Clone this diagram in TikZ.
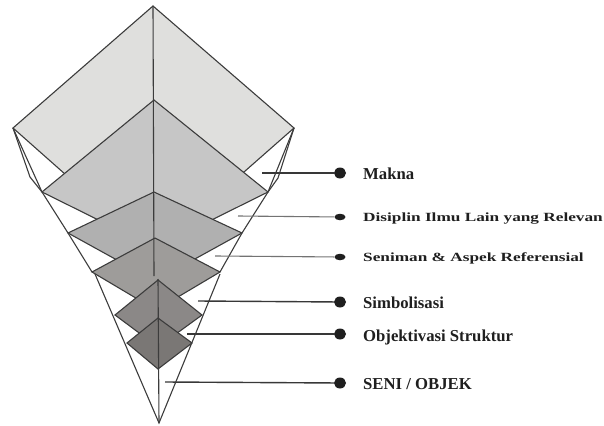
\documentclass[tikz,border=0pt]{standalone}
\usepackage{fontspec}
\setmainfont{Liberation Serif}
\newfontfamily\widefont[FakeStretch=1.38]{Liberation Serif}
\usetikzlibrary{shapes.geometric}
\definecolor{dA}{HTML}{DFDFDD}
\definecolor{dB}{HTML}{C6C6C6}
\definecolor{dC}{HTML}{B0B0B0}
\definecolor{dD}{HTML}{9E9C9A}
\definecolor{dE}{HTML}{8B8887}
\definecolor{dF}{HTML}{7A7775}
\definecolor{ink}{HTML}{3C3C3C}
\begin{document}
\begin{tikzpicture}[x=1pt,y=-1pt,
  edge/.style={draw=ink, line width=1.1pt, line join=miter},
  layer/.style={edge},
  lead/.style={draw=black!78, line width=1.4pt},
  leadlight/.style={draw=black!55, line width=1.1pt},
  bigdot/.style={ellipse, fill=black!88, draw=none, minimum width=12pt, minimum height=11pt, inner sep=0pt},
  smalldot/.style={ellipse, fill=black!88, draw=none, minimum width=11pt, minimum height=6.5pt, inner sep=0pt},
  lbl/.style={font=\bfseries\fontsize{16.7}{20}\selectfont, text=black!88, inner sep=0pt, anchor=base west},
  wlbl/.style={font=\widefont\bfseries\fontsize{12.5}{15}\selectfont, text=black!88, inner sep=0pt, anchor=base west}]
\useasboundingbox (0,0) rectangle (604,425);

% stacked diamonds (back to front)
\filldraw[layer, fill=dA] (153,6) -- (294,128) -- (153,252) -- (13,128) -- cycle;
\filldraw[layer, fill=dB] (154,100) -- (268,192) -- (155,248) -- (42,192) -- cycle;
\filldraw[layer, fill=dC] (154,192) -- (242,233) -- (155,281) -- (68,233) -- cycle;
\filldraw[layer, fill=dD] (155,238) -- (220,272) -- (156,310) -- (92,272) -- cycle;
\filldraw[layer, fill=dE] (158,280) -- (202,315) -- (158,347) -- (115,315) -- cycle;
\filldraw[layer, fill=dF] (158,318) -- (192,343) -- (158,369) -- (127,343) -- cycle;

% cone outline
\draw[edge] (13,128) -- (42,192) -- (68,233) -- (92,272);
\draw[edge] (13,128) -- (30,177) -- (42,192);
\draw[edge] (294,128) -- (268,192) -- (242,233) -- (220,272);
\draw[edge] (294,128) -- (278,178) -- (268,192);
\draw[edge] (95,274) -- (159,423) -- (220,274);

% central axis
\draw[edge] (153,6) -- (154,276);
\draw[edge] (158,279) -- (159,423);

% bullets
\node[bigdot]   (b1) at (340,173) {};
\node[smalldot] (b2) at (340,217) {};
\node[smalldot] (b3) at (340,257) {};
\node[bigdot]   (b4) at (340,302) {};
\node[bigdot]   (b5) at (340,334) {};
\node[bigdot]   (b6) at (340,383) {};

% leader start points
\coordinate (s1) at (262,173);
\coordinate (s2) at (238,216);
\coordinate (s3) at (215,256);
\coordinate (s4) at (198,301);
\coordinate (s5) at (187,334);
\coordinate (s6) at (165,382);

\draw[lead] (s1) -- (b1);
\draw[leadlight] (s2) -- (b2);
\draw[leadlight] (s3) -- (b3);
\draw[lead] (s4) -- (b4);
\draw[lead] (s5) -- (b5);
\draw[lead] (s6) -- (b6);

% labels
\node[lbl]  (t1) at (363,179) {Makna};
\node[wlbl] (t2) at (363,221.5) {Disiplin Ilmu Lain yang Relevan};
\node[wlbl] (t3) at (363,261.5) {Seniman \& Aspek Referensial};
\node[lbl]  (t4) at (363,308) {Simbolisasi};
\node[lbl]  (t5) at (363,341) {Objektivasi Struktur};
\node[lbl]  (t6) at (363,389) {SENI / OBJEK};
\end{tikzpicture}
\end{document}
